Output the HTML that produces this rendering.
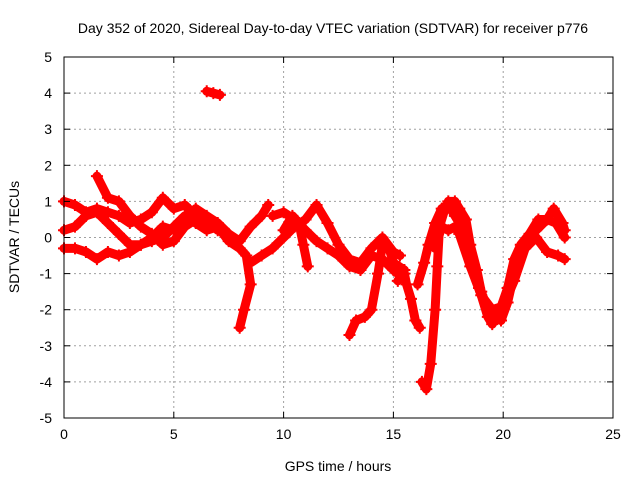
<!DOCTYPE html>
<html><head><meta charset="utf-8"><style>
body{margin:0;background:#fff;}
svg{display:block;font-family:"Liberation Sans",sans-serif;font-size:14px;}
</style></head><body>
<svg id="chart" width="640" height="480">
<rect width="640" height="480" fill="#fff"/>
<g id="grid"></g><g id="marks"></g><g id="axes"></g>
<text x="333" y="33" text-anchor="middle">Day 352 of 2020, Sidereal Day-to-day VTEC variation (SDTVAR) for receiver p776</text>
<text x="338" y="471" text-anchor="middle">GPS time / hours</text>
<text transform="translate(19,237) rotate(-90)" text-anchor="middle">SDTVAR / TECUs</text>
</svg>
<script>
const xTicks=[0,5,10,15,20,25];
const yTicks=[-5,-4,-3,-2,-1,0,1,2,3,4,5];
const arcA_t=[0,0.5,1,1.5,2,2.5,3,3.5,4,4.5,5,5.5,6,6.5,7];
const arcA_v=[1.0,0.9,0.7,0.8,0.7,0.6,0.4,0.5,0.7,1.1,0.8,0.9,0.6,0.5,0.2];
const arcB_t=[0,0.5,1,1.5,2,2.5,3,3.5,4,4.5,5,5.5,6,6.5,7,7.5,8,8.5,9,9.3];
const arcB_v=[0.2,0.3,0.6,0.7,0.4,0.1,-0.2,-0.2,0,0.3,0.2,0.5,0.8,0.6,0.4,0.1,-0.1,0.3,0.6,0.9];
const arcC_t=[0,0.5,1,1.5,2,2.5,3,3.5,4,4.5,5,5.5,6,6.5,7,7.5,8,8.3,8.5,8.2,8.0];
const arcC_v=[-0.3,-0.3,-0.4,-0.6,-0.4,-0.5,-0.4,-0.2,-0.1,0,0.3,0.6,0.4,0.2,0.3,-0.1,-0.3,-0.5,-1.3,-2.0,-2.5];
const arcD_t=[1.5,2,2.5,3,3.5,4,4.5,5,5.5,6,6.5];
const arcD_v=[1.7,1.1,1.0,0.6,0.3,0.1,-0.2,-0.1,0.3,0.5,0.3];
const arcE_t=[6.5,6.8,7.1];
const arcE_v=[4.05,4.0,3.95];
const arcF_t=[8.5,9,9.5,10,10.5,11,11.5,12,12.5,13,13.5,14,14.5,15,15.3];
const arcF_v=[-0.7,-0.5,-0.3,0,0.3,0.5,0.9,0.4,-0.2,-0.6,-0.7,-0.3,0,-0.4,-0.5];
const arcG_t=[9.5,10,10.5,11,11.5,12,12.5,13,13.5,14,14.5,15,15.2];
const arcG_v=[0.6,0.7,0.5,0.2,-0.1,-0.3,-0.5,-0.8,-0.9,-0.5,-0.6,-0.9,-1.0];
const arcH_t=[10,10.4,10.7,10.9,11.1];
const arcH_v=[0.2,0.6,0.4,-0.2,-0.8];
const arcI_t=[13,13.3,13.7,14,14.3,14.5,14.8,15,15.5];
const arcI_v=[-2.7,-2.3,-2.2,-2.0,-1.0,-0.2,-0.3,-0.7,-0.9];
const arcJ_t=[15.2,15.5,15.6,15.8,16,16.2];
const arcJ_v=[-1.2,-1.0,-1.3,-1.7,-2.3,-2.5];
const arcK_t=[16.3,16.5,16.7,16.9,17,17.1,17.3,17.5,17.8,18,18.3,18.5,18.8,19,19.3,19.6,19.9,20.2,20.5,20.8,21.2,21.5,22,22.3,22.7,22.8];
const arcK_v=[-4.0,-4.2,-3.5,-2.0,-0.8,0.3,0.7,1.0,1.0,0.8,0.5,-0.2,-0.9,-1.5,-2.0,-2.2,-2.3,-1.8,-1.0,-0.5,0,0.2,0.5,0.8,0.4,0.2];
const arcL_t=[16.1,16.4,16.6,16.9,17.2,17.5,17.8,18.2,18.5,18.9,19.3,19.5,19.8,20.2,20.5,20.8,21.2,21.6,22,22.4,22.8];
const arcL_v=[-1.3,-0.7,-0.2,0.4,0.8,0.9,0.6,0.2,-0.5,-1.4,-2.2,-2.4,-2.1,-1.4,-0.6,-0.2,0.1,0.5,0.5,0.4,0.0];
const arcM_t=[16.9,17.2,17.5,17.8,18,18.5,19,19.5,20,20.5,21,21.5,22,22.5,22.8];
const arcM_v=[-0.3,0.3,0.2,0.3,0.1,-0.8,-1.6,-2.0,-1.9,-1.2,-0.3,0,-0.4,-0.5,-0.6];
const series=[[arcA_t,arcA_v],[arcB_t,arcB_v],[arcC_t,arcC_v],[arcD_t,arcD_v],[arcE_t,arcE_v],[arcF_t,arcF_v],[arcG_t,arcG_v],[arcH_t,arcH_v],[arcI_t,arcI_v],[arcJ_t,arcJ_v],[arcK_t,arcK_v],[arcL_t,arcL_v],[arcM_t,arcM_v]];
const X0=64,X1=613,Y0=418,Y1=57;
function xs(t){return X0+(t-0)/25*(X1-X0);}
function ys(v){return Y0-(v+5)/10*(Y0-Y1);}
const NS='http://www.w3.org/2000/svg';
function mk(tag,attrs,parent){const e=document.createElementNS(NS,tag);for(const k in attrs)e.setAttribute(k,attrs[k]);parent.appendChild(e);return e;}
const grid=document.getElementById('grid'),axes=document.getElementById('axes'),marks=document.getElementById('marks');
xTicks.forEach(t=>{
 const x=xs(t);
 if(t>0&&t<25){const g=mk('line',{x1:x,y1:Y0,x2:x,y2:Y1,stroke:'#a0a0a0','stroke-dasharray':'2,3'},grid);
 
 }
 mk('line',{x1:x,y1:Y0,x2:x,y2:Y0-6,stroke:'#000'},axes);
 mk('line',{x1:x,y1:Y1,x2:x,y2:Y1+6,stroke:'#000'},axes);
 const l=mk('text',{x:x,y:Y0+21,'text-anchor':'middle'},axes);l.textContent=t;
 
 
});
yTicks.forEach(v=>{
 const y=ys(v);
 if(v>-5&&v<5){const g=mk('line',{x1:X0,y1:y,x2:X1,y2:y,stroke:'#a0a0a0','stroke-dasharray':'2,3'},grid);
 
 }
 mk('line',{x1:X0,y1:y,x2:X0+6,y2:y,stroke:'#000'},axes);
 mk('line',{x1:X1,y1:y,x2:X1-6,y2:y,stroke:'#000'},axes);
 const l=mk('text',{x:X0-12,y:y+5,'text-anchor':'end'},axes);l.textContent=v;
 
 
});
const frame=mk('rect',{x:X0,y:Y1,width:X1-X0,height:Y0-Y1,fill:'none',stroke:'#000'},axes);


series.forEach((s,i)=>{
 const [ts,vs]=s;
 const pts=ts.map((t,j)=>xs(t)+','+ys(vs[j])).join(' ');
 const pl=mk('polyline',{points:pts,fill:'none',stroke:'#f00','stroke-width':9,'stroke-linejoin':'round','stroke-linecap':'round'},marks);
 
 
 ts.forEach((t,j)=>{
  const x=xs(t),y=ys(vs[j]);
  const p=mk('path',{d:`M${x-6},${y}H${x+6}M${x},${y-6}V${y+6}`,stroke:'#f00','stroke-width':2},marks);
  
  
 });
});
</script>
</body></html>
